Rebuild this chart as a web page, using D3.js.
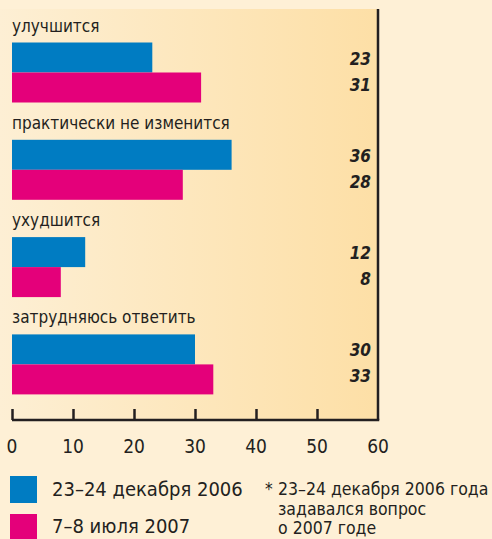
<!DOCTYPE html>
<html>
<head>
<meta charset="utf-8">
<script src="https://cdn.jsdelivr.net/npm/d3@7"></script>
<style>
  body { margin: 0; background: #fef0d6; }
  svg { display: block; }
  text { font-family: "Liberation Sans Narrow", "DejaVu Sans Condensed", "Roboto", sans-serif; fill: #231f20; }
</style>
</head>
<body>
<div id="chart"></div>
<script>
var categories = ["улучшится", "практически не изменится", "ухудшится", "затрудняюсь ответить"];
var dec2006 = [23, 36, 12, 30];
var jul2007 = [31, 28, 8, 33];
var seriesNames = ["23–24 декабря 2006", "7–8 июля 2007"];
var seriesColors = ["#007cc2", "#e4007a"];
var xTicks = [0, 10, 20, 30, 40, 50, 60];
var footnote = ["23–24 декабря 2006 года", "задавался вопрос", "о 2007 годе"];

var width = 492, height = 539;
var plotLeft = 12, plotRight = 378, plotTop = 9, axisY = 420;

var svg = d3.select("#chart")
    .append("svg")
    .attr("width", width)
    .attr("height", height);

// gradient background of the plot area
var grad = svg.append("defs").append("linearGradient")
    .attr("id", "bg")
    .attr("x1", "0%").attr("x2", "100%").attr("y1", "0%").attr("y2", "0%");
grad.append("stop").attr("offset", "0%").attr("stop-color", "#fdefd4");
grad.append("stop").attr("offset", "100%").attr("stop-color", "#fddfa6");

svg.append("rect")
    .attr("x", 0).attr("y", plotTop)
    .attr("width", plotRight).attr("height", axisY - plotTop)
    .attr("fill", "url(#bg)");

var x = d3.scaleLinear().domain([0, 60]).range([plotLeft, plotRight]);

// each group: label row + two bars
var groupY = d3.scaleBand()
    .domain(categories)
    .range([plotTop + 33.5, plotTop + 33.5 + 97.3 * 4]);

var barH = 30;

var groups = svg.selectAll(".grp")
    .data(categories)
    .enter()
    .append("g")
    .attr("class", "grp")
    .attr("transform", function (d) { return "translate(0," + groupY(d) + ")"; });

groups.append("text")
    .attr("x", plotLeft)
    .attr("y", -11)
    .style("font-size", "17px")
    .text(function (d) { return d; });

var series = [dec2006, jul2007];
series.forEach(function (vals, s) {
    groups.append("rect")
        .attr("x", x(0))
        .attr("y", s * barH)
        .attr("width", function (d, i) { return x(vals[i]) - x(0); })
        .attr("height", barH)
        .attr("fill", seriesColors[s]);

    groups.append("text")
        .attr("x", 371)
        .attr("y", s * barH + barH / 2 + (s === 0 ? 7 : 3))
        .attr("text-anchor", "end")
        .style("font-size", "17px")
        .style("font-weight", "bold")
        .style("font-style", "italic")
        .text(function (d, i) { return vals[i]; });
});

// right border
svg.append("line")
    .attr("x1", plotRight).attr("x2", plotRight)
    .attr("y1", plotTop).attr("y2", axisY)
    .attr("stroke", "#231f20").attr("stroke-width", 2.5);

// x axis
var axis = svg.append("g")
    .attr("transform", "translate(0," + axisY + ")")
    .call(d3.axisTop(x).tickValues(xTicks).tickSize(11).tickFormat(""));
axis.select(".domain").attr("stroke", "#231f20").attr("stroke-width", 2.5)
    .attr("d", "M" + plotLeft + ",0H" + (plotRight + 1.25));
axis.selectAll(".tick line").attr("stroke", "#231f20").attr("stroke-width", 2.5);
axis.selectAll(".tick").filter(function (d) { return d === 60; }).remove();

svg.append("g").selectAll("text")
    .data(xTicks)
    .enter()
    .append("text")
    .attr("x", function (d) { return x(d); })
    .attr("y", 453)
    .attr("text-anchor", "middle")
    .style("font-size", "19px")
    .text(function (d) { return d; });

// legend
var legend = svg.append("g");
seriesNames.forEach(function (name, i) {
    legend.append("rect")
        .attr("x", 10).attr("y", 476 + i * 38)
        .attr("width", 27).attr("height", 27)
        .attr("fill", seriesColors[i]);
    legend.append("text")
        .attr("x", 52).attr("y", 496 + i * 37)
        .style("font-size", "20px")
        .text(name);
});

legend.append("text")
    .attr("x", 265).attr("y", 495)
    .style("font-size", "17px")
    .text("*");
legend.selectAll(".fn")
    .data(footnote)
    .enter()
    .append("text")
    .attr("class", "fn")
    .attr("x", 278)
    .attr("y", function (d, i) { return [495, 515, 534][i]; })
    .style("font-size", "17.5px")
    .text(function (d) { return d; });
</script>
</body>
</html>
